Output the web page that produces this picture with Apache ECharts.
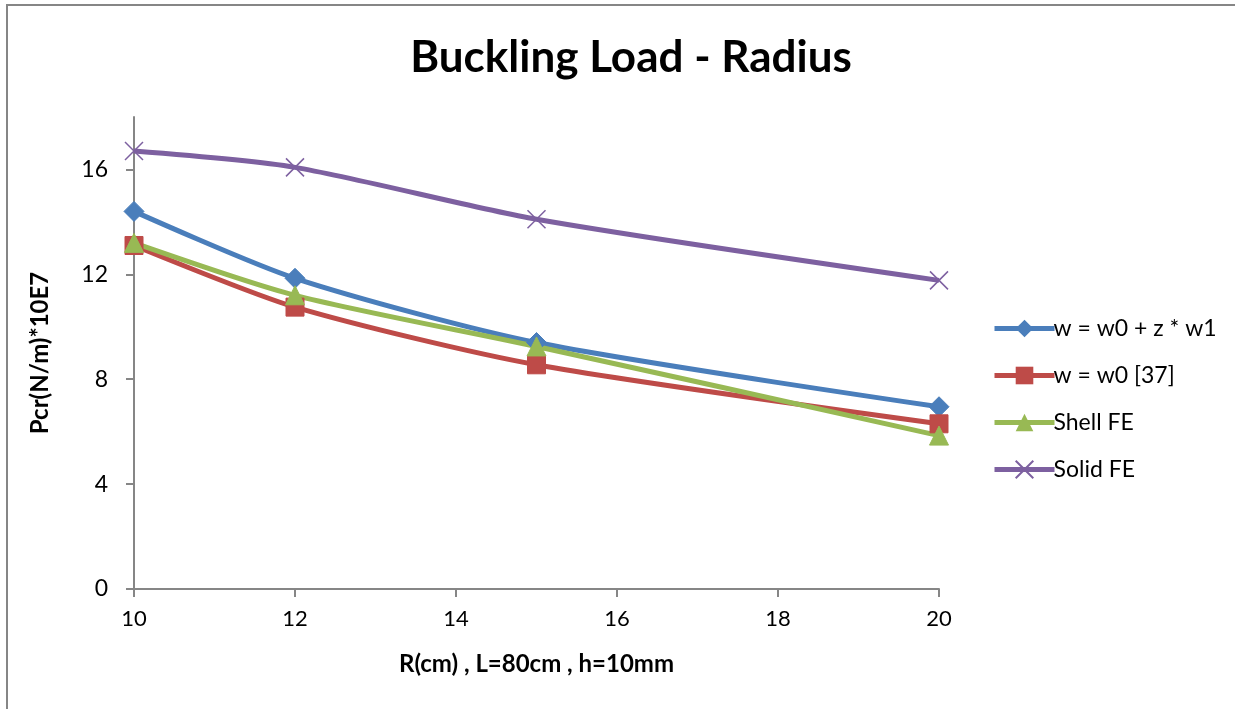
<!DOCTYPE html>
<html>
<head>
<meta charset="utf-8">
<script src="https://cdn.jsdelivr.net/npm/echarts@6/dist/echarts.min.js"></script>
<style>
  html, body { margin: 0; padding: 0; background: #fff; }
  #chart { width: 1245px; height: 709px; }
</style>
</head>
<body>
<div id="chart"></div>
<script>
// Radius R (cm) for each computed case
const radii = [10, 12, 15, 20];

// Critical buckling load Pcr (N/m) * 10E7 for each model
const firstOrder = [14.4, 11.85, 9.4, 6.95];   // w = w0 + z * w1
const classical = [13.1, 10.75, 8.55, 6.3];    // w = w0 [37]
const shellFE = [13.2, 11.2, 9.25, 5.85];      // Shell FE
const solidFE = [16.7, 16.08, 14.1, 11.77];    // Solid FE

const seriesNames = ['w = w0 + z * w1', 'w = w0 [37]', 'Shell FE', 'Solid FE'];
const yTicks = [0, 4, 8, 12, 16];

const FONT = 'Lato';
const pairs = (ys) => radii.map((r, i) => [r, ys[i]]);
const CROSS = 'path://M0,0 L10,10 M10,0 L0,10';

const chart = echarts.init(document.getElementById('chart'));

function lineSeries(name, data, color, symbol, size, extra) {
  return Object.assign({
    name: name,
    type: 'line',
    data: pairs(data),
    smooth: 0.25,
    symbol: symbol,
    symbolSize: size,
    lineStyle: { color: color, width: 5 },
    itemStyle: { color: color, borderColor: color },
    emphasis: { disabled: true },
    z: 3
  }, extra || {});
}

chart.setOption({
  animation: false,
  backgroundColor: '#ffffff',
  title: {
    text: 'Buckling Load - Radius',
    left: 626,
    top: 31,
    textAlign: 'center',
    textStyle: { fontFamily: FONT, fontWeight: 'bold', fontSize: 44, color: '#000' }
  },
  legend: {
    orient: 'vertical',
    left: 987,
    top: 312,
    itemGap: 24,
    itemWidth: 60,
    itemHeight: 22,
    data: seriesNames.map((n) => ({ name: n })),
    lineStyle: { width: 5 },
    textStyle: { fontFamily: FONT, fontSize: 23, color: '#000', padding: [0, 0, 0, -6] }
  },
  grid: { left: 134, right: 306, top: 117, bottom: 120, containLabel: false },
  xAxis: {
    type: 'value',
    min: 10,
    max: 20,
    interval: 2,
    name: 'R(cm) , L=80cm , h=10mm',
    nameLocation: 'middle',
    nameGap: 63,
    nameTextStyle: { fontFamily: FONT, fontWeight: 'bold', fontSize: 24, color: '#000' },
    axisLine: { lineStyle: { color: '#868686', width: 2 } },
    axisTick: { show: true, length: 8, lineStyle: { color: '#868686', width: 2 } },
    axisLabel: { fontFamily: FONT, fontSize: 22, color: '#000', margin: 19 },
    splitLine: { show: false }
  },
  yAxis: {
    type: 'value',
    min: 0,
    max: 18,
    interval: 4,
    name: 'Pcr(N/m)*10E7',
    nameLocation: 'middle',
    nameGap: 82,
    nameRotate: 90,
    nameTextStyle: { fontFamily: FONT, fontWeight: 'bold', fontSize: 24, color: '#000' },
    axisLine: { show: true, lineStyle: { color: '#868686', width: 2 } },
    axisTick: { show: true, length: 8, lineStyle: { color: '#868686', width: 2 } },
    axisLabel: {
      fontFamily: FONT, fontSize: 23, color: '#000', margin: 26,
      showMaxLabel: false,
      formatter: (v) => (yTicks.indexOf(v) >= 0 ? String(v) : '')
    },
    splitLine: { show: false }
  },
  series: [
    lineSeries(seriesNames[0], firstOrder, '#4a7ebb', 'diamond', 20),
    lineSeries(seriesNames[1], classical, '#be4b48', 'rect', 18),
    lineSeries(seriesNames[2], shellFE, '#98b954', 'triangle', 19),
    lineSeries(seriesNames[3], solidFE, '#7d60a0', CROSS, 18, {
      itemStyle: { color: '#7d60a0', borderColor: '#7d60a0', borderWidth: 1.5 }
    })
  ],
  graphic: [
    { type: 'polyline', shape: { points: [[7, 709], [7, 5], [1235, 5]] },
      style: { stroke: '#868686', lineWidth: 2, fill: null }, silent: true }
  ]
});
</script>
</body>
</html>
